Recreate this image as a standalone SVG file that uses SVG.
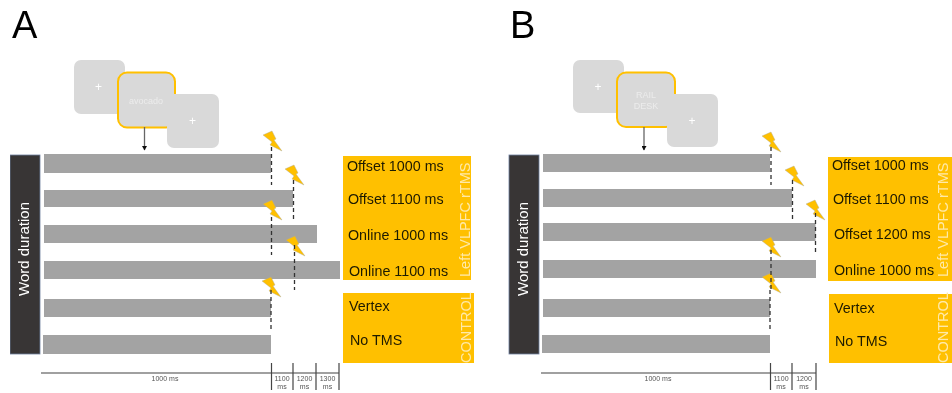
<svg xmlns="http://www.w3.org/2000/svg" width="952" height="393" viewBox="0 0 952 393">
<style>
text{font-family:"Liberation Sans",Arial,sans-serif}
.bar{fill:#a3a3a3}
.dark{fill:#383635;stroke:#6f7f9f;stroke-width:.8}
.or{fill:#ffc000}
.card{fill:#d9d9d9}
.hl{fill:#d9d9d9;stroke:#ffc000;stroke-width:2}
.pl{fill:#fff;font-size:12px;text-anchor:middle}
.wd{fill:#ececec;font-size:9px;text-anchor:middle}
.lab{fill:#1f1a00;font-size:14.300px}
.vt{fill:#ffe9a8;font-size:14.500px}
.dur{fill:#fff;font-size:15px;text-anchor:middle}
.ttl{fill:#000;font-size:38px}
.tk{fill:#555;font-size:7px;text-anchor:middle}
.ax{stroke:#444;stroke-width:1.200;fill:none}
.dash{stroke:#333;stroke-width:1.300;stroke-dasharray:4 3;fill:none}
.arr{stroke:#666;stroke-width:1.300;fill:none}
.bolt{fill:#ffc000;stroke:#a9a9a0;stroke-width:.4}
</style>
<defs>
<polygon id="b" class="bolt" points="0,4 9,0 13,8 11,9 19,20 7,14 9,11"/>
<marker id="ah" markerWidth="5" markerHeight="5" refX="4" refY="2.500" orient="auto" markerUnits="userSpaceOnUse"><path d="M0,0L4.500,2.500L0,5z" fill="#111"/></marker>
<filter id="soft" x="0" y="0" width="100%" height="100%"><feGaussianBlur stdDeviation=".45"/></filter>
</defs>
<g filter="url(#soft)">
<g id="panel-a">
<text id="title-a" class="ttl" x="12" y="38">A</text>
<g id="a-card-1"><rect class="card" x="74" y="60" width="51" height="54" rx="7"/><text class="pl" x="98.500" y="91">+</text></g>
<g id="a-card-2"><rect class="hl" x="118" y="72.500" width="57" height="55" rx="9"/><text class="wd" x="146" y="104">avocado</text></g>
<g id="a-card-3"><rect class="card" x="167" y="94" width="52" height="54" rx="7"/><text class="pl" x="192.500" y="125">+</text></g>
<g id="a-duration"><rect class="dark" x="10" y="155" width="30" height="199"/><text class="dur" transform="translate(29 249) rotate(-90)">Word duration</text></g>
<g id="a-bars">
<rect class="bar" x="44" y="154" width="227" height="19"/>
<rect class="bar" x="44" y="190" width="249" height="17"/>
<rect class="bar" x="44" y="225" width="273" height="18"/>
<rect class="bar" x="44" y="261" width="296" height="18"/>
<rect class="bar" x="44" y="299" width="227" height="18"/>
<rect class="bar" x="43" y="335" width="228" height="19"/>
</g>
<g id="a-tms">
<rect class="or" x="343" y="156" width="128" height="124"/>
<text class="lab" x="347" y="171">Offset 1000 ms</text>
<text class="lab" x="348" y="204">Offset 1100 ms</text>
<text class="lab" x="348" y="240">Online 1000 ms</text>
<text class="lab" x="349" y="276">Online 1100 ms</text>
<text class="vt" transform="translate(470 277) rotate(-90)">Left VLPFC rTMS</text>
</g>
<g id="a-control">
<rect class="or" x="343" y="293" width="131" height="70"/>
<text class="lab" x="349" y="311">Vertex</text>
<text class="lab" x="350" y="345">No TMS</text>
<text class="vt" transform="translate(471 363) rotate(-90)">CONTROL</text>
</g>
<g id="a-bolts">
<use href="#b" x="263" y="131"/><use href="#b" x="285" y="165"/><use href="#b" x="263" y="200"/><use href="#b" x="286" y="236"/><use href="#b" x="262" y="277"/>
</g>
<g id="a-axis">
<text class="tk" x="165" y="381">1000 ms</text>
<text class="tk" x="282" y="381">1100</text><text class="tk" x="282" y="389">ms</text>
<text class="tk" x="304.500" y="381">1200</text><text class="tk" x="304.500" y="389">ms</text>
<text class="tk" x="327.500" y="381">1300</text><text class="tk" x="327.500" y="389">ms</text>
</g>
</g>

<g id="panel-b">
<text id="title-b" class="ttl" x="510" y="38">B</text>
<g id="b-card-1"><rect class="card" x="573" y="60" width="51" height="53" rx="7"/><text class="pl" x="598" y="91">+</text></g>
<g id="b-card-2"><rect class="hl" x="617" y="72.500" width="58" height="54.500" rx="9"/><text class="wd" x="646" y="98">RAIL</text><text class="wd" x="646" y="109">DESK</text></g>
<g id="b-card-3"><rect class="card" x="667" y="94" width="51" height="53" rx="7"/><text class="pl" x="692" y="125">+</text></g>
<g id="b-duration"><rect class="dark" x="509" y="155" width="30" height="199"/><text class="dur" transform="translate(528 249) rotate(-90)">Word duration</text></g>
<g id="b-bars">
<rect class="bar" x="543" y="154" width="227" height="18"/>
<rect class="bar" x="543" y="189" width="249" height="18"/>
<rect class="bar" x="543" y="223" width="272.500" height="18"/>
<rect class="bar" x="543" y="260" width="273" height="18"/>
<rect class="bar" x="543" y="299" width="227" height="18"/>
<rect class="bar" x="542" y="335" width="228" height="18"/>
</g>
<g id="b-tms">
<rect class="or" x="828" y="157" width="124" height="124"/>
<text class="lab" x="832" y="170">Offset 1000 ms</text>
<text class="lab" x="833" y="204">Offset 1100 ms</text>
<text class="lab" x="834" y="239">Offset 1200 ms</text>
<text class="lab" x="834" y="275">Online 1000 ms</text>
<text class="vt" transform="translate(948 277) rotate(-90)">Left VLPFC rTMS</text>
</g>
<g id="b-control">
<rect class="or" x="829" y="294" width="123" height="69"/>
<text class="lab" x="834" y="313">Vertex</text>
<text class="lab" x="835" y="346">No TMS</text>
<text class="vt" transform="translate(948 363) rotate(-90)">CONTROL</text>
</g>
<g id="b-bolts">
<use href="#b" x="762" y="132"/><use href="#b" x="785" y="166"/><use href="#b" x="806" y="200"/><use href="#b" x="762" y="237"/><use href="#b" x="762" y="273"/>
</g>
<g id="b-axis">
<text class="tk" x="658" y="381">1000 ms</text>
<text class="tk" x="781" y="381">1100</text><text class="tk" x="781" y="389">ms</text>
<text class="tk" x="804" y="381">1200</text><text class="tk" x="804" y="389">ms</text>
</g>
</g>

<g id="connectors">
<path class="arr" d="M144.500 127V150" marker-end="url(#ah)"/>
<path class="arr" d="M644 127V150" marker-end="url(#ah)"/>
<path class="dash" d="M271.500 147V185M293.500 180V219M271.500 217V255M294.500 245V290M271 290V332"/>
<path class="dash" d="M771 147V185M792.500 180V219M815.500 213V254M771 250V290M770 290V331"/>
<path class="ax" d="M41 373H339M271.500 363V390M293 363V390M316 363V390M339 363V390"/>
<path class="ax" d="M541 373H816M770.500 363V390M792 363V390M816 363V390"/>
</g>
</g>
</svg>
